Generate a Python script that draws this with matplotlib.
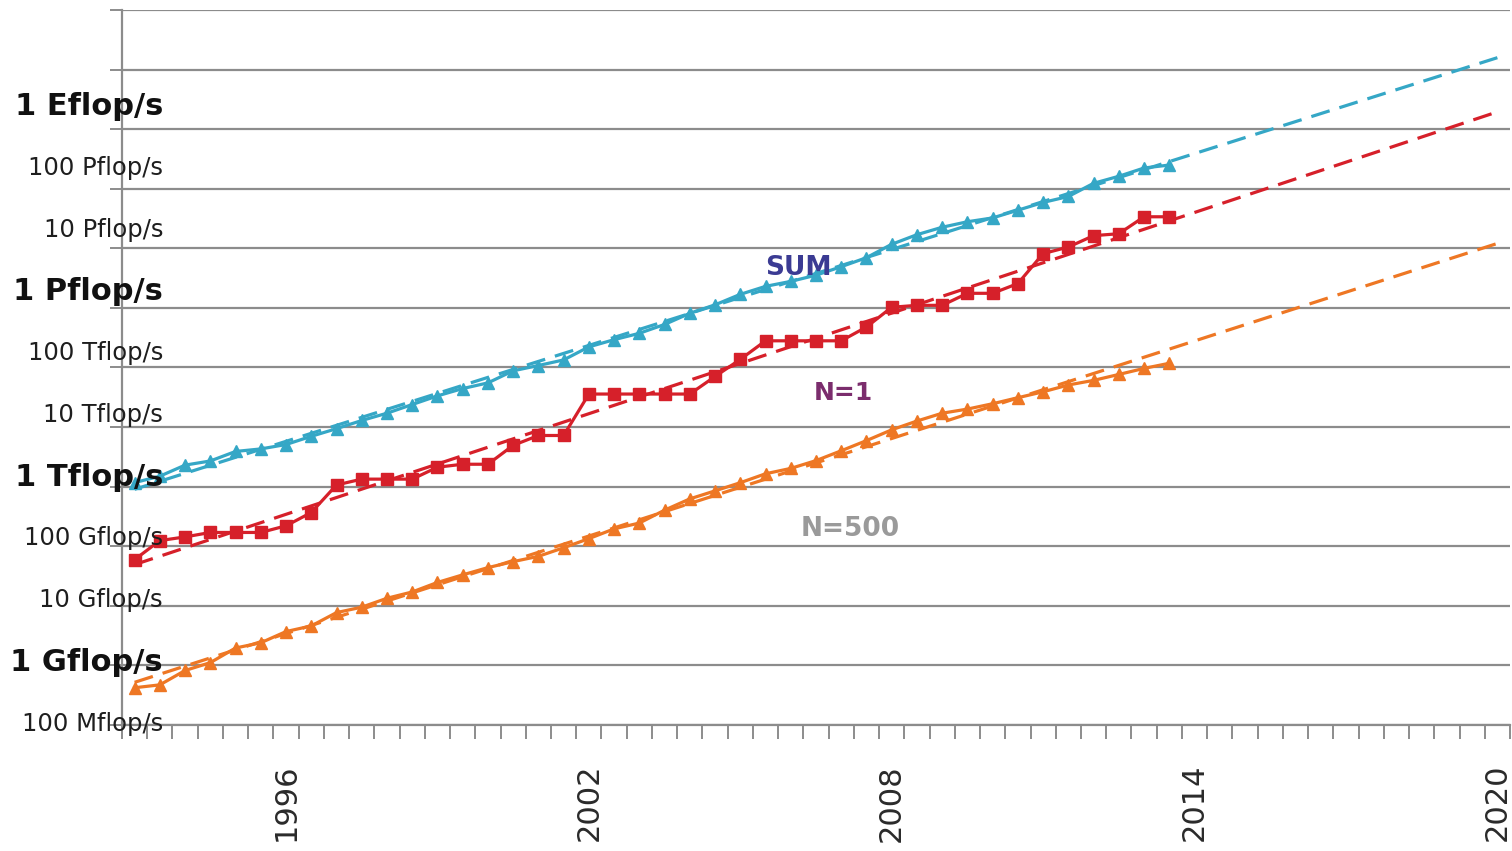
import numpy as np
import matplotlib
matplotlib.use("Agg")
import matplotlib.pyplot as plt
from matplotlib.ticker import FixedLocator, NullLocator, NullFormatter, FixedFormatter

plt.rcParams['font.family'] = ['DejaVu Sans']

# TOP500 list editions (June / November), axis runs to June 2020
periods = [f"{y}-{m}" for y in range(1993, 2021) for m in ("06", "11")][:55]

# Rmax performance per list, June 1993 .. November 2013
sum_tflops = [1.17, 1.5, 2.3, 2.7, 3.9, 4.3, 5.1, 7.0, 9.4, 12.9,
              17.1, 23.9, 33.4, 44.3, 55.2, 88.0, 108.0, 134.0, 222.0, 293.0,
              375.0, 528.0, 813.0, 1127.0, 1690.0, 2300.0, 2790.0, 3540.0, 4920.0, 6970.0,
              11700.0, 16950.0, 22600.0, 27950.0, 32400.0, 43700.0, 58900.0, 74200.0, 123400.0, 162000.0,
              223000.0, 250000.0]
n1_gflops = [59.7, 124.5, 143.4, 170.4, 170.4, 170.4, 220.4, 368.2, 1068, 1338,
             1338, 1338, 2121, 2379, 2379, 4938, 7226, 7226, 35860, 35860,
             35860, 35860, 35860, 70720, 136800, 280600, 280600, 280600, 280600, 478200,
             1026000, 1105000, 1105000, 1759000, 1759000, 2566000, 8162000, 10510000, 16324000, 17590000,
             33863000, 33863000]
n500_gflops = [0.422, 0.472, 0.822, 1.114, 1.96, 2.4, 3.7, 4.6, 7.7, 9.5,
               13.4, 17.1, 24.7, 33.1, 43.8, 55.2, 67.8, 94.3, 134.3, 195.8,
               245.1, 403.4, 624, 850.6, 1166, 1646, 2026, 2737, 4005, 5929,
               9000, 12640, 17100, 20050, 24670, 31120, 39100, 50900, 60800, 76500,
               96600, 117800]

year_ticks = ["1996", "2002", "2008", "2014", "2020"]
perf_labels = ["100 Mflop/s", "1 Gflop/s", "10 Gflop/s", "100 Gflop/s", "1 Tflop/s",
               "10 Tflop/s", "100 Tflop/s", "1 Pflop/s", "10 Pflop/s", "100 Pflop/s", "1 Eflop/s"]
perf_values = [1e8, 1e9, 1e10, 1e11, 1e12, 1e13, 1e14, 1e15, 1e16, 1e17, 1e18]

C_SUM = "#35a7c6"
C_N1 = "#d6202a"
C_N500 = "#ee7724"
GRID = "#8c8c8c"

W, H = 1512, 851
fig = plt.figure(figsize=(W / 100, H / 100), dpi=100, facecolor="white")

ax = fig.add_axes([122 / W, 1 - 725 / H, (1510 - 122) / W, (725 - 10) / H], facecolor="none")
ax.set_yscale("log")
ax.set_ylim(1e8, 1e20)
ax.set_xlim(-0.5, len(periods) - 0.5)

series = [
    (np.array(sum_tflops) * 1e12, C_SUM, "^", 9),
    (np.array(n1_gflops) * 1e9, C_N1, "s", 9),
    (np.array(n500_gflops) * 1e9, C_N500, "^", 9),
]

x_obs = np.arange(len(sum_tflops))
x_all = np.arange(len(periods))
for vals, col, mk, ms in series:
    # exponential trend: straight line fitted in log space, extended to 2020
    coef = np.polyfit(x_obs, np.log10(vals), 1)
    ax.plot(x_all, 10 ** np.polyval(coef, x_all), color=col, lw=2.3,
            dashes=(6, 3.2), zorder=2, solid_capstyle="butt")
    ax.plot(x_obs, vals, color=col, lw=2.3, marker=mk, ms=ms,
            markeredgecolor=col, zorder=3)

# y axis: decade gridlines with outward tick marks, labels drawn separately
ax.yaxis.set_major_locator(FixedLocator([10.0 ** k for k in range(8, 21)]))
ax.yaxis.set_minor_locator(NullLocator())
ax.yaxis.set_major_formatter(NullFormatter())
ax.grid(axis="y", color=GRID, lw=1.6, zorder=1)
ax.tick_params(axis="y", which="major", length=8.6, width=1.4, color=GRID, direction="out")

# x axis: one slot per list edition, ticks between slots
ax.xaxis.set_major_locator(FixedLocator(np.arange(-0.5, len(periods), 1.0)))
ax.xaxis.set_major_formatter(NullFormatter())
ax.tick_params(axis="x", which="major", length=10, width=1.4, color=GRID, direction="out")
tick_pos = [periods.index(f"{y}-06") for y in year_ticks]
ax.xaxis.set_minor_locator(FixedLocator(tick_pos))
ax.xaxis.set_minor_formatter(FixedFormatter(year_ticks))
ax.tick_params(axis="x", which="minor", length=0, pad=28, labelsize=22,
               labelrotation=90, labelcolor="#2a2a2a")

for s in ("top", "right"):
    ax.spines[s].set_visible(False)
for s in ("left", "bottom"):
    ax.spines[s].set_color(GRID)
    ax.spines[s].set_linewidth(1.6)

# performance labels on the left
lab = fig.add_axes([0, 1 - 721 / H, 163 / W, (721 - 103.5) / H], facecolor="none", zorder=5)
lab.set_yscale("log")
lab.set_ylim(1e8, 1e18)
lab.axis("off")
for v, t in zip(perf_values, perf_labels):
    big = t.startswith("1 ")
    lab.text(1.0, v, t, transform=lab.get_yaxis_transform(), ha="right",
             va="center_baseline", fontsize=22 if big else 17.5,
             fontweight="bold" if big else "normal",
             color="#111111" if big else "#1e1e1e")

# series names
fig.text(798 / W, 1 - 265 / H, "SUM", ha="center", va="center_baseline",
         fontsize=19, fontweight="bold", color="#3b3b93")
fig.text(843 / W, 1 - 391 / H, "N=1", ha="center", va="center_baseline",
         fontsize=18, fontweight="bold", color="#7b2d6d")
fig.text(850 / W, 1 - 526 / H, "N=500", ha="center", va="center_baseline",
         fontsize=19, fontweight="bold", color="#9a9a9a")

fig.savefig("out.png", dpi=100, facecolor="white")
